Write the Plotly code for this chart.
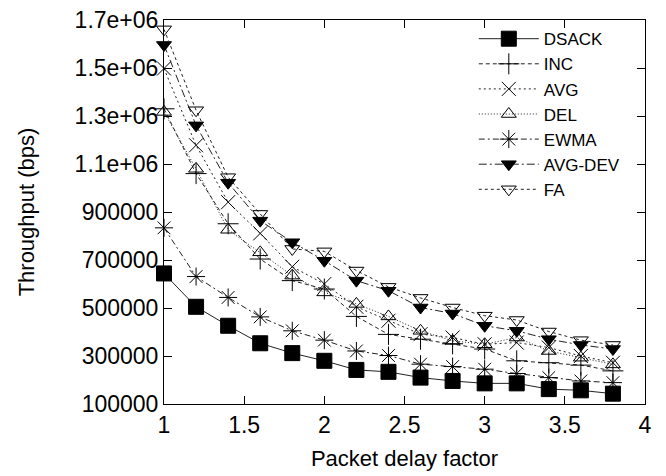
import plotly.graph_objects as go

delay_factor = [1.0, 1.2, 1.4, 1.6, 1.8, 2.0, 2.2, 2.4, 2.6, 2.8, 3.0, 3.2, 3.4, 3.6, 3.8]

dsack = [644000, 505000, 426000, 353000, 312000, 280000, 242000, 234000, 210000, 196000, 186000, 186000, 162000, 157000, 143000]
inc = [1330000, 1060000, 851000, 704000, 614000, 579000, 465000, 390000, 370000, 351000, 329000, 280000, 272000, 262000, 238000]
avg = [1498000, 1178000, 941000, 811000, 672000, 600000, 505000, 447000, 391000, 377000, 349000, 356000, 335000, 300000, 272000]
dele = [1317000, 1080000, 826000, 732000, 635000, 565000, 517000, 465000, 405000, 363000, 349000, 377000, 321000, 293000, 265000]
ewma = [834000, 631000, 544000, 463000, 405000, 366000, 321000, 302000, 266000, 256000, 245000, 227000, 210000, 196000, 189000]
avg_dev = [1596000, 1261000, 1022000, 864000, 774000, 697000, 614000, 572000, 502000, 477000, 426000, 405000, 370000, 346000, 329000]
fa = [1661000, 1324000, 1045000, 892000, 746000, 736000, 656000, 588000, 542000, 502000, 468000, 450000, 402000, 366000, 346000]

series_names = ["DSACK", "INC", "AVG", "DEL", "EWMA", "AVG-DEV", "FA"]
series_values = [dsack, inc, avg, dele, ewma, avg_dev, fa]

x_tick_vals = [1, 1.5, 2, 2.5, 3, 3.5, 4]
x_tick_text = ["1", "1.5", "2", "2.5", "3", "3.5", "4"]
y_tick_vals = [100000, 300000, 500000, 700000, 900000, 1100000, 1300000, 1500000, 1700000]
y_tick_text = ["100000", "300000", "500000", "700000", "900000", "1.1e+06", "1.3e+06", "1.5e+06", "1.7e+06"]

styles = {
    "DSACK": dict(dash="solid", symbol="square", size=15),
    "INC": dict(dash="4px,3px", symbol="cross-thin-open", size=15),
    "AVG": dict(dash="2px,3px", symbol="x-thin-open", size=14),
    "DEL": dict(dash="1px,2px", symbol="triangle-up-open", size=13),
    "EWMA": dict(dash="6px,3px,2px,3px", symbol="asterisk-open", size=15),
    "AVG-DEV": dict(dash="8px,3px,2px,3px", symbol="triangle-down", size=13),
    "FA": dict(dash="3px,3px", symbol="triangle-down-open", size=13),
}

fig = go.Figure()
for name, vals in zip(series_names, series_values):
    st = styles[name]
    fig.add_trace(go.Scatter(
        x=delay_factor, y=vals, name=name, mode="lines+markers",
        line=dict(color="#222222", width=1, dash=st["dash"]),
        marker=dict(symbol=st["symbol"], size=st["size"], color="black",
                    line=dict(color="black", width=1)),
        cliponaxis=False,
    ))

font_family = "Liberation Sans, Arial, sans-serif"
fig.update_layout(
    width=658, height=468,
    margin=dict(l=156, r=21, t=12, b=72, autoexpand=False),
    paper_bgcolor="white", plot_bgcolor="white",
    font=dict(family=font_family, size=23, color="black"),
    legend=dict(x=0.958, y=0.997, xanchor="right", yanchor="top",
                bgcolor="rgba(0,0,0,0)", font=dict(size=17),
                itemwidth=60, tracegroupgap=0),
    showlegend=True,
)
fig.update_xaxes(
    range=[1, 4], tickvals=x_tick_vals, ticktext=x_tick_text,
    ticks="inside", ticklen=8, tickcolor="black", mirror="ticks",
    showline=True, linecolor="black", linewidth=1, showgrid=False, zeroline=False,
    title=dict(text="Packet delay factor", font=dict(size=22), standoff=14),
    tickfont=dict(size=23), automargin=False, ticklabeloverflow="allow",
)
fig.update_yaxes(
    range=[100000, 1700000], tickvals=y_tick_vals, ticktext=y_tick_text,
    ticks="inside", ticklen=8, tickcolor="black", mirror="ticks",
    showline=True, linecolor="black", linewidth=1, showgrid=False, zeroline=False,
    title=dict(text="Throughput (bps)", font=dict(size=22), standoff=33),
    tickfont=dict(size=23), automargin=False, ticklabeloverflow="allow",
)

fig.write_html("out.html")
